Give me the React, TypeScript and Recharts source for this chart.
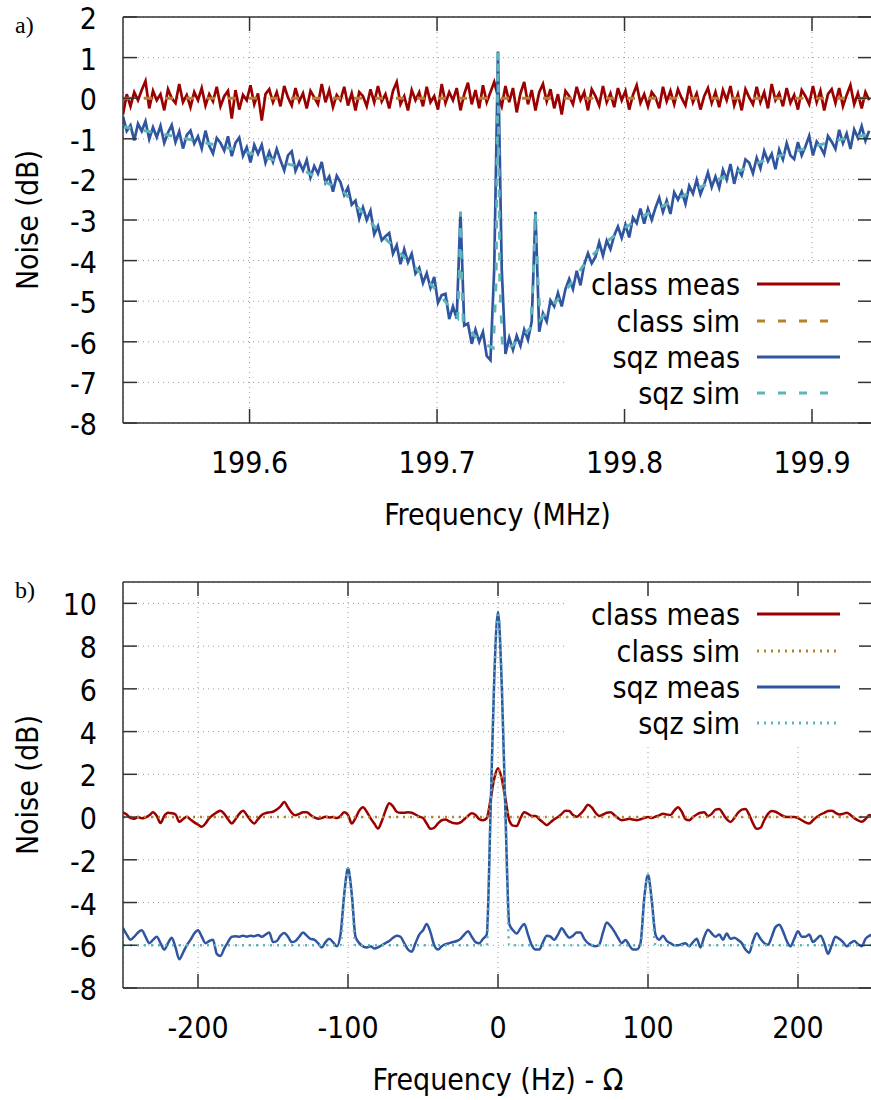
import React from "react";
import {
  LineChart,
  Line,
  XAxis,
  YAxis,
  CartesianGrid,
  Legend,
  Label,
  ReferenceLine,
  ReferenceArea,
} from "recharts";

const FONT = '"DejaVu Sans Condensed", "DejaVu Sans", sans-serif';
const FRAME = "#333333";
const GRID = "#9c9c9c";
const PLOT_LEFT = 123;
const CHART_W = 880;
const CHART_H = 550;

const COLOR_CLASS_MEAS = "#9a0000";
const COLOR_CLASS_SIM = "#b5822a";
const COLOR_SQZ_MEAS = "#2f54a0";
const COLOR_SQZ_SIM = "#5cb5b8";

// ---- panel a: noise vs frequency (MHz), sampled every 2 kHz ----
const freqStartA = 199.5325;
const freqStepA = 0.002;

const classMeasA = [
  -0.4, 0.1, -0.2, 0.15, -0.05, 0.2, 0.42, -0.25, 0.18, -0.05,
  0.1, -0.3, 0.22, 0.0, -0.12, 0.35, -0.1, 0.08, -0.22, 0.15,
  -0.05, 0.25, -0.18, 0.1, -0.08, 0.28, -0.2, 0.05, 0.18, -0.5,
  0.2, -0.28, 0.08, -0.05, 0.32, -0.15, 0.12, -0.55, 0.1, 0.22,
  -0.1, 0.15, -0.2, 0.3, 0.02, -0.18, 0.25, -0.08, 0.12, -0.25,
  0.18, 0.02, -0.15, 0.35, -0.1, 0.2, -0.22, 0.08, -0.05, 0.28,
  -0.18, 0.12, -0.3, 0.15, 0.05, -0.2, 0.22, -0.1, 0.3, -0.08,
  0.1, -0.25, 0.18, 0.4, -0.15, 0.05, -0.3, 0.2, -0.05, 0.15,
  -0.2, 0.28, -0.1, 0.05, -0.28, 0.35, -0.12, 0.15, -0.05, 0.25,
  -0.3, 0.1, 0.38, -0.15, 0.2, -0.25, 0.32, -0.1, 0.15, 0.4,
  0.05, -0.2, 0.3, -0.1, 0.25, -0.35, 0.12, 0.4, -0.15, 0.2,
  -0.3, 0.15, 0.35, -0.08, 0.22, -0.25, 0.1, -0.4, 0.18, 0.05,
  -0.15, 0.28, -0.05, 0.15, -0.3, 0.22, 0.05, -0.18, 0.3, -0.1,
  0.12, -0.22, 0.25, -0.05, 0.18, -0.28, 0.08, 0.32, -0.12, 0.1,
  -0.2, 0.15, 0.02, -0.25, 0.28, -0.08, 0.18, -0.15, 0.22, 0.0,
  -0.18, 0.3, -0.1, 0.12, -0.28, 0.05, 0.25, -0.12, 0.15, -0.22,
  0.2, -0.05, 0.3, -0.18, 0.1, -0.3, 0.22, 0.02, -0.15, 0.28,
  -0.1, 0.15, -0.25, 0.35, -0.05, 0.12, -0.2, 0.25, -0.12, 0.08,
  -0.28, 0.2, 0.05, -0.15, 0.3, -0.1, 0.18, -0.3, 0.1, 0.22,
  -0.12, 0.25, -0.2, 0.08, 0.32, -0.15, 0.12, -0.25, 0.15, -0.05,
];

const sqzMeasA = [
  -0.45, -0.81, -0.67, -1.04, -0.63, -0.81, -0.57, -1.01, -0.72, -0.96,
  -0.68, -1.1, -0.85, -0.66, -1.08, -0.82, -1.24, -0.91, -0.8, -1.12,
  -0.94, -1.24, -0.8, -1.17, -1.36, -0.98, -1.1, -1.29, -0.94, -1.43,
  -1.1, -0.97, -1.42, -1.21, -1.58, -1.15, -1.37, -1.15, -1.59, -1.32,
  -1.57, -1.25, -1.53, -1.78, -1.41, -1.31, -1.79, -1.57, -1.78, -1.52,
  -1.95, -1.67, -1.86, -1.57, -2.08, -1.93, -2.3, -1.91, -2.07, -2.38,
  -2.2, -2.62, -2.52, -2.97, -2.69, -3.0, -2.77, -3.35, -3.15, -3.5,
  -3.4, -3.32, -3.83, -3.62, -4.09, -3.72, -4.04, -3.83, -4.32, -4.18,
  -4.55, -4.31, -4.67, -4.4, -5.04, -4.85, -4.82, -5.44, -5.13, -5.43,
  -2.8, -5.6, -5.55, -6.05, -5.7, -6.0, -5.76, -6.35, -6.45, -4.2,
  1.15, -4.2, -6.3, -5.9, -6.2, -5.85, -6.1, -5.7, -5.95, -5.5,
  -2.8, -5.75, -5.3, -5.5, -4.98, -5.13, -4.8, -5.13, -4.7, -4.45,
  -4.7, -4.25, -4.61, -4.09, -3.82, -4.07, -3.91, -3.55, -3.88, -3.51,
  -3.72, -3.38, -3.16, -3.44, -3.12, -3.43, -2.94, -3.08, -2.72, -3.09,
  -2.73, -3.0, -2.7, -2.45, -2.8, -2.52, -2.85, -2.32, -2.5, -2.3,
  -2.6, -2.16, -2.35, -2.01, -2.37, -2.13, -1.83, -2.19, -1.93, -2.21,
  -1.77, -2.01, -1.62, -2.11, -1.74, -1.9, -1.51, -1.59, -1.85, -1.47,
  -1.73, -1.3, -1.55, -1.37, -1.75, -1.27, -1.51, -1.11, -1.41, -1.5,
  -1.08, -1.41, -1.19, -0.93, -1.41, -1.07, -1.2, -1.38, -0.93, -1.07,
  -1.25, -0.78, -1.11, -0.87, -1.25, -0.77, -0.98, -0.69, -1.05, -0.8,
];

const classSimFreqA = [199.5325, 199.932];
const classSimA = [0, 0];

const sqzSimFreqA = [
  199.5325, 199.55, 199.575, 199.6, 199.625, 199.65, 199.66, 199.67, 199.68, 199.69,
  199.7, 199.706, 199.711, 199.712, 199.7125, 199.713, 199.714, 199.72, 199.725, 199.73,
  199.7315, 199.7325, 199.7335, 199.735, 199.74, 199.745, 199.75, 199.7515, 199.7525, 199.7535,
  199.755, 199.76, 199.77, 199.78, 199.79, 199.8, 199.81, 199.825, 199.84, 199.85,
  199.865, 199.875, 199.89, 199.9, 199.915, 199.932,
];
const sqzSimA = [
  -0.7, -0.85, -1.08, -1.35, -1.68, -2.3, -2.8, -3.35, -3.8, -4.25,
  -4.75, -5.1, -5.4, -4.2, -2.8, -4.2, -5.5, -5.85, -6.05, -6.15,
  -4.5, 1.15, -4.5, -6.2, -6.1, -5.9, -5.65, -4.2, -2.8, -4.2,
  -5.45, -5.2, -4.65, -4.0, -3.55, -3.2, -2.9, -2.55, -2.2, -2.0,
  -1.72, -1.52, -1.32, -1.2, -1.02, -0.88,
];

const xTicksA = [199.6, 199.7, 199.8, 199.9];
const yTicksA = [-8, -7, -6, -5, -4, -3, -2, -1, 0, 1, 2];

// ---- panel b: noise vs frequency offset (Hz), sampled every 2.5 Hz ----
const freqStartB = -250;
const freqStepB = 2.5;

const classMeasB = [
  0.22, 0.12, -0.05, -0.08, 0.0, -0.06, -0.02, 0.08, 0.22, 0.05,
  -0.28, 0.05, 0.2, 0.18, 0.12, -0.22, -0.1, 0.02, -0.12, -0.25,
  -0.35, -0.45, -0.3, -0.05, 0.1, 0.22, 0.3, 0.15, -0.1, -0.3,
  -0.1, 0.15, 0.3, 0.1, -0.15, -0.3, -0.1, 0.1, 0.18, 0.22,
  0.25, 0.35, 0.5, 0.7, 0.45, 0.2, 0.08, 0.15, 0.22, 0.23,
  0.1, -0.02, -0.08, -0.05, 0.02, -0.02, 0.0, -0.05, 0.05, 0.22,
  0.1, -0.3, -0.05, 0.3, 0.46, 0.25, -0.05, -0.3, -0.54, -0.2,
  0.3, 0.65, 0.5, 0.25, 0.2, 0.2, 0.22, 0.2, 0.12, 0.02,
  -0.05, -0.3, -0.55, -0.5, -0.3, -0.15, -0.12, -0.2, -0.28, -0.3,
  -0.25, -0.1, 0.05, 0.18, 0.1, -0.1, -0.15, -0.05, 0.8, 1.8,
  2.28, 1.8, 0.85, -0.15, -0.4, -0.42, -0.05, 0.22, 0.15, 0.05,
  0.05, -0.1, -0.25, -0.38, -0.25, -0.1, 0.0, 0.15, 0.3, 0.28,
  0.1, 0.02, 0.15, 0.35, 0.58, 0.45, 0.2, 0.05, 0.12, 0.2,
  0.22, 0.1, -0.05, -0.15, -0.12, -0.08, -0.12, -0.15, -0.1, -0.05,
  0.0, -0.05, 0.02, 0.08, 0.15, 0.12, 0.1, 0.3, 0.46, 0.25,
  -0.1, -0.15, 0.0, 0.12, 0.2, 0.22, 0.05, 0.15, 0.35, 0.38,
  0.15, -0.1, -0.23, -0.05, 0.2, 0.35, 0.38, 0.1, -0.3, -0.55,
  -0.5, -0.15, 0.15, 0.28, 0.25, 0.15, 0.05, 0.0, 0.0, 0.0,
  -0.05, -0.15, -0.25, -0.3, -0.15, 0.0, 0.12, 0.2, 0.28, 0.3,
  0.2, 0.12, 0.15, 0.2, 0.1, -0.05, -0.15, -0.22, -0.1, 0.1,
  0.0,
];

const sqzMeasB = [
  -5.2, -5.5, -5.74, -5.6, -5.4, -5.3, -5.6, -5.9, -5.75, -5.6,
  -5.9, -6.2, -5.9, -5.65, -6.1, -6.65, -6.35, -6.0, -5.75, -5.45,
  -5.3, -5.6, -5.9, -5.8, -5.74, -6.4, -6.5, -6.15, -5.85, -5.6,
  -5.58, -5.6, -5.55, -5.6, -5.55, -5.58, -5.52, -5.6, -5.5, -5.4,
  -5.85, -5.8, -5.55, -5.43, -5.6, -5.85, -5.8, -5.6, -5.4, -5.55,
  -5.7, -5.74, -5.9, -6.1, -5.85, -5.7, -5.85, -6.05, -5.5, -3.6,
  -2.4, -3.6, -5.6, -5.9, -6.05, -6.1, -6.05, -6.15, -6.1, -6.0,
  -5.9, -5.8, -5.65, -5.55, -5.6, -5.9, -6.2, -6.3, -5.9, -5.5,
  -5.3, -5.0, -5.4, -6.0, -6.2, -6.05, -5.95, -5.9, -5.85, -5.8,
  -5.7, -5.5, -5.35, -5.6, -5.85, -5.9, -5.7, -5.5, 0.1, 6.5,
  9.6, 6.2, 0.1, -5.0, -5.3, -5.45, -5.2, -5.0, -5.5, -6.0,
  -6.2, -6.2, -5.85, -5.55, -5.6, -5.74, -5.5, -5.2, -5.45, -5.65,
  -5.55, -5.4, -5.4, -5.7, -5.9, -6.0, -6.05, -5.97, -5.4, -4.93,
  -5.1, -5.35, -5.65, -5.9, -5.75, -6.0, -6.2, -6.2, -5.9, -3.8,
  -2.7, -3.9, -5.5, -5.74, -5.55, -5.8, -5.9, -6.0, -6.0, -5.95,
  -5.9, -6.05, -5.85, -5.7, -6.1, -5.6, -5.27, -5.45, -5.6, -5.5,
  -5.74, -5.45, -5.7, -5.65, -5.75, -5.9, -6.2, -6.35, -5.8, -5.44,
  -5.7, -5.9, -5.98, -5.6, -5.15, -5.04, -5.35, -5.8, -6.05, -5.7,
  -5.35, -5.6, -5.6, -5.5, -5.85, -5.7, -5.56, -5.9, -6.4, -6.0,
  -5.6, -5.7, -5.85, -6.05, -5.9, -5.8, -5.95, -6.05, -5.7, -5.56,
  -5.5,
];

const classSimFreqB = [-250, -7.5, -5, -2.5, 0, 2.5, 5, 7.5, 250];
const classSimB = [0, 0, 0.75, 1.75, 2.2, 1.75, 0.75, 0, 0];

const sqzSimFreqB = [
  -250, -105, -102.5, -100, -97.5, -95, -7.5, -5, -2.5, 0,
  2.5, 5, 7.5, 95, 97.5, 100, 102.5, 105, 250,
];
const sqzSimB = [
  -6, -6, -3.7, -2.4, -3.7, -6, -6, 0.2, 6.4, 9.6,
  6.4, 0.2, -6, -6, -3.9, -2.7, -3.9, -6, -6,
];

const xTicksB = [-200, -100, 0, 100, 200];
const yTicksB = [-8, -6, -4, -2, 0, 2, 4, 6, 8, 10];

const legendNames = ["class meas", "class sim", "sqz meas", "sqz sim"];

// -------------------------------------------------------------------

const sampled = (start: number, step: number, ys: number[]) =>
  ys.map((y, i) => ({ x: +(start + i * step).toFixed(4), y }));
const paired = (xs: number[], ys: number[]) => xs.map((x, i) => ({ x, y: ys[i] }));

const textStyle = { fontStretch: "condensed" as const };

function makeXTick(plotTop: number, plotBottom: number, fmt: (v: number) => string) {
  return (props: any) => {
    const { x, payload } = props;
    return (
      <g>
        <line x1={x} x2={x} y1={plotBottom} y2={plotBottom - 14} stroke={FRAME} strokeWidth={1.5} />
        <line x1={x} x2={x} y1={plotTop} y2={plotTop + 14} stroke={FRAME} strokeWidth={1.5} />
        <text
          x={x}
          y={plotBottom + 50}
          textAnchor="middle"
          fontFamily={FONT}
          fontSize={30}
          fill="#000"
          style={textStyle}
        >
          {fmt(payload.value)}
        </text>
      </g>
    );
  };
}

function makeYTick(plotRight: number) {
  return (props: any) => {
    const { y, payload } = props;
    return (
      <g>
        <line x1={PLOT_LEFT} x2={PLOT_LEFT + 14} y1={y} y2={y} stroke={FRAME} strokeWidth={1.5} />
        <line x1={plotRight - 14} x2={plotRight} y1={y} y2={y} stroke={FRAME} strokeWidth={1.5} />
        <text
          x={97}
          y={y + 12}
          textAnchor="end"
          fontFamily={FONT}
          fontSize={30}
          fill="#000"
          style={textStyle}
        >
          {String(payload.value)}
        </text>
      </g>
    );
  };
}

interface SeriesDef {
  name: string;
  data: { x: number; y: number }[];
  color: string;
  width: number;
  dash?: string;
  curve: "linear" | "monotone";
}

interface PanelProps {
  top: number;
  plotTop: number;
  xAxisHeight: number;
  marginRight: number;
  xDomain: [number, number];
  yDomain: [number, number];
  xTicks: number[];
  yTicks: number[];
  formatX: (v: number) => string;
  xTitle: string;
  series: SeriesDef[];
  legendTop: number;
  legendRows: number[];
  mask: { x1: number; x2: number; y1: number; y2: number };
}

function NoisePanel(p: PanelProps) {
  const plotBottom = CHART_H - p.xAxisHeight;
  const plotRight = CHART_W - p.marginRight;
  const plotMid = (p.plotTop + plotBottom) / 2;

  const renderLegend = () => (
    <svg width={300} height={150} style={{ display: "block" }}>
      {p.series.map((s, i) => (
        <g key={s.name}>
          <text
            x={175}
            y={p.legendRows[i] + 11}
            textAnchor="end"
            fontFamily={FONT}
            fontSize={30}
            fill="#000"
            style={textStyle}
          >
            {s.name}
          </text>
          <line
            x1={192}
            x2={275}
            y1={p.legendRows[i]}
            y2={p.legendRows[i]}
            stroke={s.color}
            strokeWidth={3}
            strokeDasharray={s.dash}
          />
        </g>
      ))}
    </svg>
  );

  return (
    <div style={{ position: "absolute", left: 0, top: p.top }}>
      <LineChart
        width={CHART_W}
        height={CHART_H}
        margin={{ top: p.plotTop, right: p.marginRight, bottom: 0, left: 0 }}
      >
        <CartesianGrid stroke={GRID} strokeDasharray="1 4" strokeWidth={1} />
        <ReferenceArea
          x1={p.mask.x1}
          x2={p.mask.x2}
          y1={p.mask.y1}
          y2={p.mask.y2}
          fill="#ffffff"
          fillOpacity={1}
          stroke="none"
        />
        <XAxis
          type="number"
          dataKey="x"
          domain={p.xDomain}
          ticks={p.xTicks}
          interval={0}
          allowDataOverflow
          height={p.xAxisHeight}
          tickLine={false}
          axisLine={{ stroke: FRAME, strokeWidth: 1.5 }}
          tick={makeXTick(p.plotTop, plotBottom, p.formatX)}
        >
          <Label
            content={() => (
              <text
                x={(PLOT_LEFT + plotRight) / 2}
                y={plotBottom + 102}
                textAnchor="middle"
                fontFamily={FONT}
                fontSize={30}
                fill="#000"
                style={textStyle}
              >
                {p.xTitle}
              </text>
            )}
          />
        </XAxis>
        <YAxis
          type="number"
          domain={p.yDomain}
          ticks={p.yTicks}
          interval={0}
          allowDataOverflow
          width={PLOT_LEFT}
          tickLine={false}
          axisLine={{ stroke: FRAME, strokeWidth: 1.5 }}
          tick={makeYTick(plotRight)}
        >
          <Label
            content={() => (
              <text
                x={38}
                y={plotMid}
                transform={`rotate(-90 38 ${plotMid})`}
                textAnchor="middle"
                fontFamily={FONT}
                fontSize={30}
                fill="#000"
                style={textStyle}
              >
                Noise (dB)
              </text>
            )}
          />
        </YAxis>
        <ReferenceLine y={p.yDomain[1]} stroke={FRAME} strokeWidth={1.5} />
        <ReferenceLine x={p.xDomain[1]} stroke={FRAME} strokeWidth={1.5} />
        {p.series.map((s) => (
          <Line
            key={s.name}
            name={s.name}
            data={s.data}
            dataKey="y"
            type={s.curve}
            stroke={s.color}
            strokeWidth={s.width}
            strokeDasharray={s.dash}
            dot={false}
            activeDot={false}
            isAnimationActive={false}
          />
        ))}
        <Legend
          layout="horizontal"
          align="center"
          verticalAlign="middle"
          content={renderLegend}
          wrapperStyle={{ left: 565, top: p.legendTop, width: 300, height: 150 }}
        />
      </LineChart>
    </div>
  );
}

export default function App() {
  const seriesA: SeriesDef[] = [
    { name: legendNames[0], data: sampled(freqStartA, freqStepA, classMeasA), color: COLOR_CLASS_MEAS, width: 2.7, curve: "linear" },
    { name: legendNames[1], data: paired(classSimFreqA, classSimA), color: COLOR_CLASS_SIM, width: 3, dash: "8 13", curve: "linear" },
    { name: legendNames[2], data: sampled(freqStartA, freqStepA, sqzMeasA), color: COLOR_SQZ_MEAS, width: 2.7, curve: "linear" },
    { name: legendNames[3], data: paired(sqzSimFreqA, sqzSimA), color: COLOR_SQZ_SIM, width: 3, dash: "8 13", curve: "linear" },
  ];
  const seriesB: SeriesDef[] = [
    { name: legendNames[0], data: sampled(freqStartB, freqStepB, classMeasB), color: COLOR_CLASS_MEAS, width: 2.5, curve: "monotone" },
    { name: legendNames[1], data: paired(classSimFreqB, classSimB), color: COLOR_CLASS_SIM, width: 2.5, dash: "2 5", curve: "monotone" },
    { name: legendNames[2], data: sampled(freqStartB, freqStepB, sqzMeasB), color: COLOR_SQZ_MEAS, width: 2.5, curve: "monotone" },
    { name: legendNames[3], data: paired(sqzSimFreqB, sqzSimB), color: COLOR_SQZ_SIM, width: 2.5, dash: "2 5", curve: "monotone" },
  ];

  return (
    <div
      style={{
        position: "absolute",
        left: 0,
        top: 0,
        width: 871,
        height: 1100,
        overflow: "hidden",
        background: "#fff",
      }}
    >
      <NoisePanel
        top={0}
        plotTop={17}
        xAxisHeight={127}
        marginRight={8}
        xDomain={[199.5325, 199.932]}
        yDomain={[-8, 2]}
        xTicks={xTicksA}
        yTicks={yTicksA}
        formatX={(v) => v.toFixed(1)}
        xTitle="Frequency (MHz)"
        series={seriesA}
        legendTop={266}
        legendRows={[18, 55, 91, 127]}
        mask={{ x1: 199.768, x2: 199.932, y1: -7.7, y2: -4.12 }}
      />
      <NoisePanel
        top={550}
        plotTop={32}
        xAxisHeight={112}
        marginRight={7}
        xDomain={[-250, 250]}
        yDomain={[-8, 11]}
        xTicks={xTicksB}
        yTicks={yTicksB}
        formatX={(v) => String(v)}
        xTitle="Frequency (Hz) - Ω"
        series={seriesB}
        legendTop={45}
        legendRows={[19, 56, 92, 128]}
        mask={{ x1: 44, x2: 250, y1: 3.4, y2: 10.4 }}
      />
      <svg
        width={871}
        height={1100}
        style={{ position: "absolute", left: 0, top: 0, pointerEvents: "none" }}
      >
        <text x={15} y={33} fontFamily='"Liberation Serif", serif' fontSize={24} fill="#000">
          a)
        </text>
        <text x={15} y={598} fontFamily='"Liberation Serif", serif' fontSize={24} fill="#000">
          b)
        </text>
      </svg>
    </div>
  );
}
